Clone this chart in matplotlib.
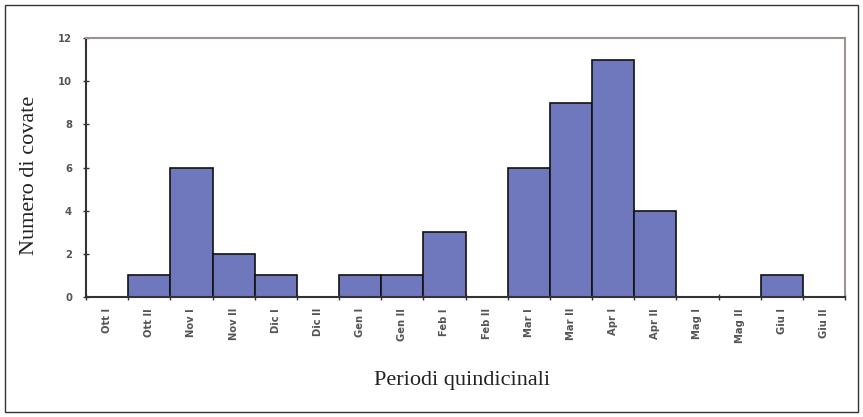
import matplotlib
matplotlib.use("Agg")
import matplotlib.pyplot as plt
from matplotlib.patches import Rectangle

categories = ["Ott I", "Ott II", "Nov I", "Nov II", "Dic I", "Dic II",
              "Gen I", "Gen II", "Feb I", "Feb II", "Mar I", "Mar II",
              "Apr I", "Apr II", "Mag I", "Mag II", "Giu I", "Giu II"]
values = [0, 1, 6, 2, 1, 0, 1, 1, 3, 0, 6, 9, 11, 4, 0, 0, 1, 0]
yticks = [0, 2, 4, 6, 8, 10, 12]

W, H = 863, 417
fig = plt.figure(figsize=(W / 100, H / 100), dpi=100)
fig.patch.set_facecolor("white")

# outer border
fig.patches.append(Rectangle((5 / W, 5 / H), (858 - 5) / W, (412 - 5) / H,
                             transform=fig.transFigure, fill=False,
                             edgecolor="#333333", linewidth=1.0))

ax = fig.add_axes([86 / W, (H - 297) / H, (845 - 86) / W, (297 - 38) / H])
x = list(range(len(categories)))
ax.bar(x, values, width=1.0, color="#7078bd", edgecolor="#111111",
       linewidth=1.2, align="edge")
ax.set_xlim(0, len(categories))
ax.set_ylim(0, 12)

ax.set_xticks([i + 0.5 for i in x])
ax.set_xticklabels(categories, rotation=90, fontsize=7.2, fontweight="bold",
                   color="#555555", family="DejaVu Sans")
ax.set_xticks(list(range(len(categories) + 1)), minor=True)
ax.tick_params(axis="x", which="major", length=0, pad=8)
ax.tick_params(axis="x", which="minor", length=4, direction="inout",
               color="#333333", width=1)
ax.set_yticks(yticks)
ax.set_yticklabels([str(v) for v in yticks], fontsize=7.2, fontweight="bold",
                   color="#555555")
ax.tick_params(axis="y", length=4, direction="inout", color="#333333",
               width=1, pad=8)

for s in ["left", "bottom"]:
    ax.spines[s].set_color("#333333")
    ax.spines[s].set_linewidth(1.5)
for s in ["top", "right"]:
    ax.spines[s].set_color("#9e9290")
    ax.spines[s].set_linewidth(1.5)

serif = ["Liberation Serif", "DejaVu Serif"]
fig.text(30 / W, 1 - 175 / H, "Numero di covate", family=serif, fontsize=16,
         color="#222222", rotation=90, ha="center", va="center")
fig.text((372 + 553) / 2 / W, 1 - 380 / H, "Periodi quindicinali",
         family=serif, fontsize=16, color="#222222", ha="center", va="center")

fig.savefig("out.png", dpi=100, facecolor="white")
